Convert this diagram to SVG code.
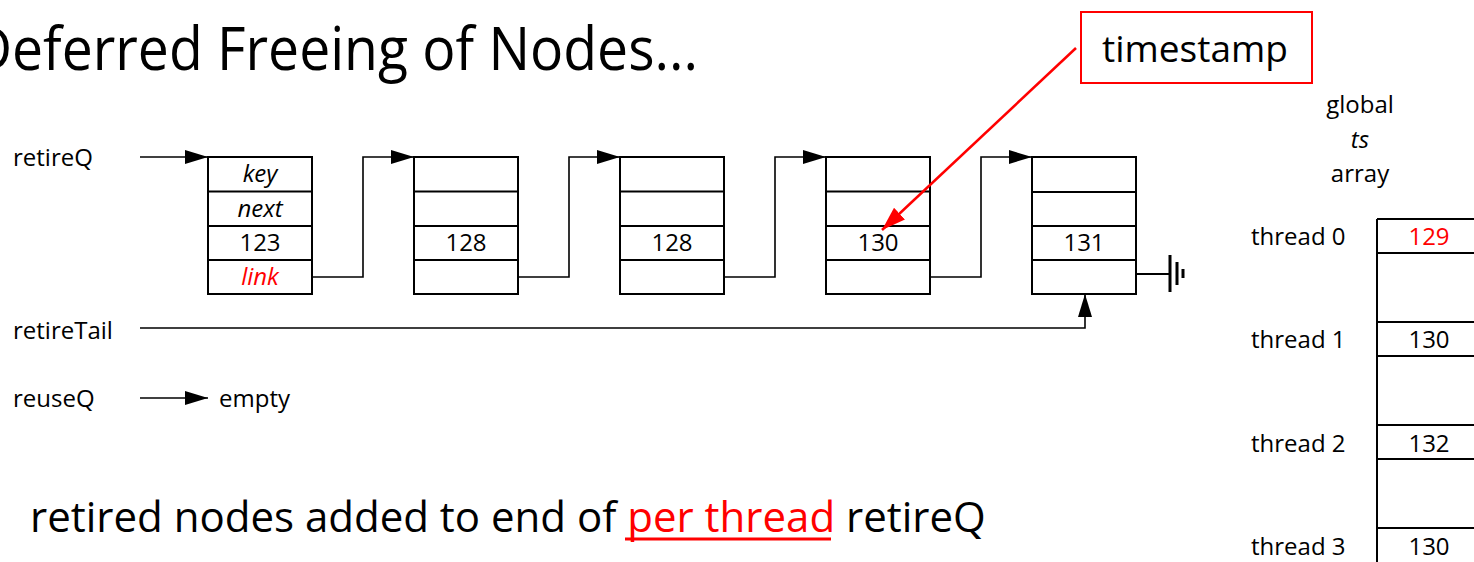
<svg xmlns="http://www.w3.org/2000/svg" width="1474" height="562" viewBox="0 0 1474 562">
<defs>
<style>
text{font-family:"Open Sans","Liberation Sans",sans-serif;fill:#000}
.lbl{font-size:24px}
.cell{font-size:24px;text-anchor:middle}
.it{font-style:italic}
.red{fill:#ff0000}
.box{fill:#fff;stroke:#000;stroke-width:2}
.ln{fill:none;stroke:#000;stroke-width:2}
.con{fill:none;stroke:#000;stroke-width:1.6}
</style>
<marker id="ah" markerUnits="userSpaceOnUse" markerWidth="23" markerHeight="14" refX="23" refY="7" orient="auto">
<path d="M0,0 L23,7 L0,14 z" fill="#000"/>
</marker>
<marker id="ahr" markerUnits="userSpaceOnUse" markerWidth="24" markerHeight="16" refX="24" refY="8" orient="auto">
<path d="M0,0 L24,8 L0,16 z" fill="#ff0000"/>
</marker>
</defs>
<rect width="1474" height="562" fill="#fff"/>
<text x="-28" y="70" font-size="60" textLength="726" lengthAdjust="spacingAndGlyphs">Deferred Freeing of Nodes...</text>

<g id="labels">
<text class="lbl" x="13" y="166">retireQ</text>
<text class="lbl" x="13" y="339">retireTail</text>
<text class="lbl" x="13" y="407">reuseQ</text>
<text class="lbl" x="219" y="407">empty</text>
</g>

<g id="node1">
<rect class="box" x="208" y="157" width="104" height="137"/>
<path class="ln" d="M208,191.5H312M208,226H312M208,260H312"/>
<text class="cell it" x="260" y="182">key</text>
<text class="cell it" x="260" y="217">next</text>
<text class="cell" x="260" y="251">123</text>
<text class="cell it red" x="260" y="285">link</text>
</g>
<g id="node2">
<rect class="box" x="414" y="157" width="104" height="137"/>
<path class="ln" d="M414,191.5H518M414,226H518M414,260H518"/>
<text class="cell" x="466" y="251">128</text>
</g>
<g id="node3">
<rect class="box" x="620" y="157" width="104" height="137"/>
<path class="ln" d="M620,191.5H724M620,226H724M620,260H724"/>
<text class="cell" x="672" y="251">128</text>
</g>
<g id="node4">
<rect class="box" x="826" y="157" width="104" height="137"/>
<path class="ln" d="M826,191.5H930M826,226H930M826,260H930"/>
<text class="cell" x="878" y="251">130</text>
</g>
<g id="node5">
<rect class="box" x="1032" y="157" width="104" height="137"/>
<path class="ln" d="M1032,192H1136M1032,226H1136M1032,260H1136"/>
<text class="cell" x="1084" y="251">131</text>
</g>

<g id="ground">
<path class="ln" d="M1136,274H1170" stroke-width="3"/>
<path d="M1170,255V292M1177,262V285M1183,269V278" stroke="#000" stroke-width="3" fill="none"/>
</g>

<g id="timestamp">
<rect x="1081" y="12" width="231" height="71" fill="#fff" stroke="#ff0000" stroke-width="2"/>
<text x="1102" y="62" font-size="37">timestamp</text>
</g>

<g id="tsarray">
<text class="cell" x="1360" y="113">global</text>
<text class="cell it" x="1360" y="148">ts</text>
<text class="cell" x="1360" y="182">array</text>
<path class="ln" d="M1377,219V562M1377,219H1474M1377,253H1474M1377,322H1474M1377,356H1474M1377,425H1474M1377,459H1474M1377,528H1474"/>
<text class="lbl" x="1251" y="245">thread 0</text>
<text class="lbl" x="1251" y="348">thread 1</text>
<text class="lbl" x="1251" y="452">thread 2</text>
<text class="lbl" x="1251" y="555">thread 3</text>
<text class="cell red" x="1429" y="245">129</text>
<text class="cell" x="1429" y="348">130</text>
<text class="cell" x="1429" y="452">132</text>
<text class="cell" x="1429" y="555">130</text>
</g>

<g id="connectors">
<path class="con" d="M140,157H208" marker-end="url(#ah)"/>
<path class="con" d="M312,277H363V157H414" marker-end="url(#ah)"/>
<path class="con" d="M518,277H569V157H620" marker-end="url(#ah)"/>
<path class="con" d="M724,277H775V157H826" marker-end="url(#ah)"/>
<path class="con" d="M930,277H981V157H1032" marker-end="url(#ah)"/>
<path class="con" d="M140,328H1085V294" marker-end="url(#ah)"/>
<path class="con" d="M140,398H208" marker-end="url(#ah)"/>
<path d="M1076,48L882,230" fill="none" stroke="#ff0000" stroke-width="2.5" marker-end="url(#ahr)"/>
</g>

<g id="caption">
<text x="30" y="532" font-size="42">retired nodes added to end of <tspan class="red">per thread</tspan> retireQ</text>
<path d="M625,539H831" stroke="#ff0000" stroke-width="3"/>
</g>
</svg>
